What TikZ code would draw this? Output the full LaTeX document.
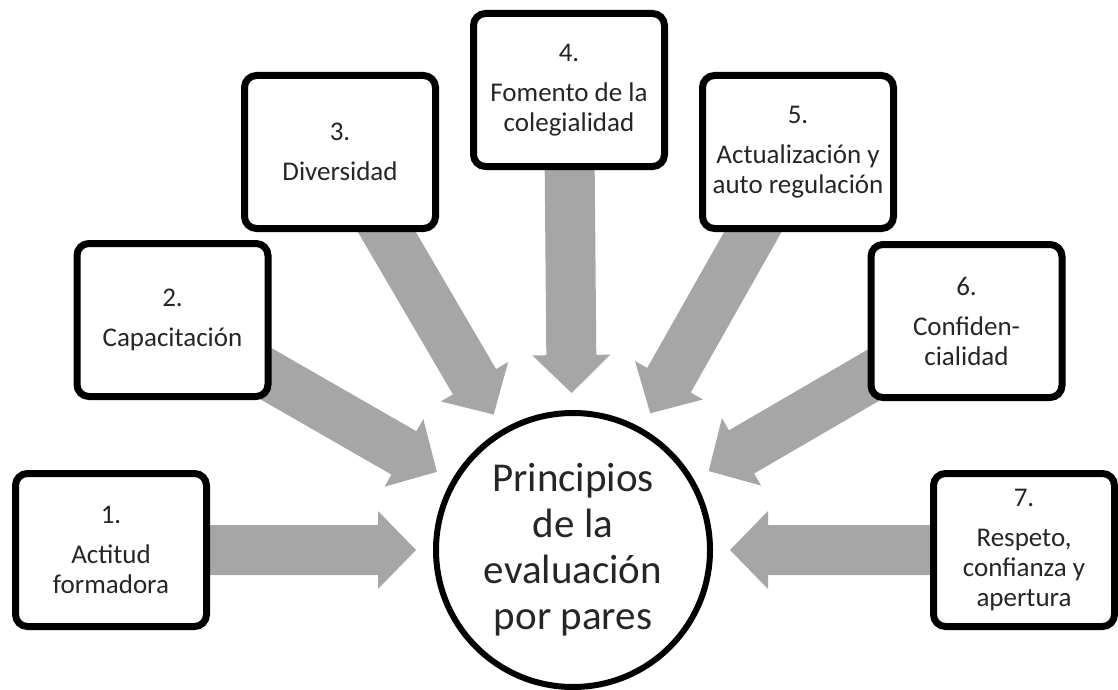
\documentclass[tikz,border=0pt]{standalone}
\usepackage{fontspec}
\setmainfont{Carlito}
\usetikzlibrary{calc}
\usetikzlibrary{shadows}
\usetikzlibrary{backgrounds}
\definecolor{flecha}{RGB}{166,166,166}
\definecolor{letra}{RGB}{38,38,38}
\newcommand{\blkarrow}[2] {
\path ($ (#2)!78.5pt!(#1) $) coordinate (tip)
      ($ (#2)!97.5pt!(#1) $) coordinate (hb);
\fill[flecha] ($ (#1)!12.5pt!90:(tip) $) -- ($ (hb)!12.5pt!90:(tip) $) -- ($ (hb)!19.5pt!90:(tip) $)
   -- (tip) -- ($ (hb)!19.5pt!-90:(tip) $) -- ($ (hb)!12.5pt!-90:(tip) $) -- ($ (#1)!12.5pt!-90:(tip) $) -- cycle;
}

\begin{document}
\begin{tikzpicture}[x=0.5pt, y=-0.5pt,
    principio/.style={draw, line width=3.5pt, rounded corners=6pt, fill=white,
      minimum width=95.5pt, minimum height=76.5pt, inner sep=2pt, align=center,
      text=letra, font=\fontsize{13.5}{15}\selectfont,
      drop shadow={shadow xshift=0.8pt, shadow yshift=-1.5pt, opacity=0.25}},
    centro/.style={circle, draw, line width=3pt, fill=white, minimum size=137pt,
      inner sep=0pt, align=center, text=letra, font=\fontsize{20.5}{23}\selectfont}]
      \useasboundingbox (0,0) rectangle (1118,690);
      \node[centro] (c) at (573,550) {Principios\\de la\\evaluación\\por pares};
      \node[principio] (b1) at (111,550) {1.\\[5pt]Actitud\\formadora};
      \node[principio] (b2) at (172.5,320) {2.\\[5pt]Capacitación};
      \node[principio] (b3) at (340,152) {3.\\[5pt]Diversidad};
      \node[principio] (b4) at (569,90) {4.\\[5pt]Fomento de la\\colegialidad};
      \node[principio] (b5) at (798,152) {5.\\[5pt]Actualización y\\auto regulación};
      \node[principio] (b6) at (966.5,321) {6.\\[5pt]Confiden-\\cialidad};
      \node[principio, minimum width=90.5pt] (b7) at (1024,550) {7.\\[5pt]Respeto,\\confianza y\\apertura};
      \begin{pgfonlayer}{background}
        \foreach \b in {b1,b2,b3,b4,b5,b6,b7} {
          \blkarrow{\b}{c}
        }
      \end{pgfonlayer}
\end{tikzpicture}
\end{document}
